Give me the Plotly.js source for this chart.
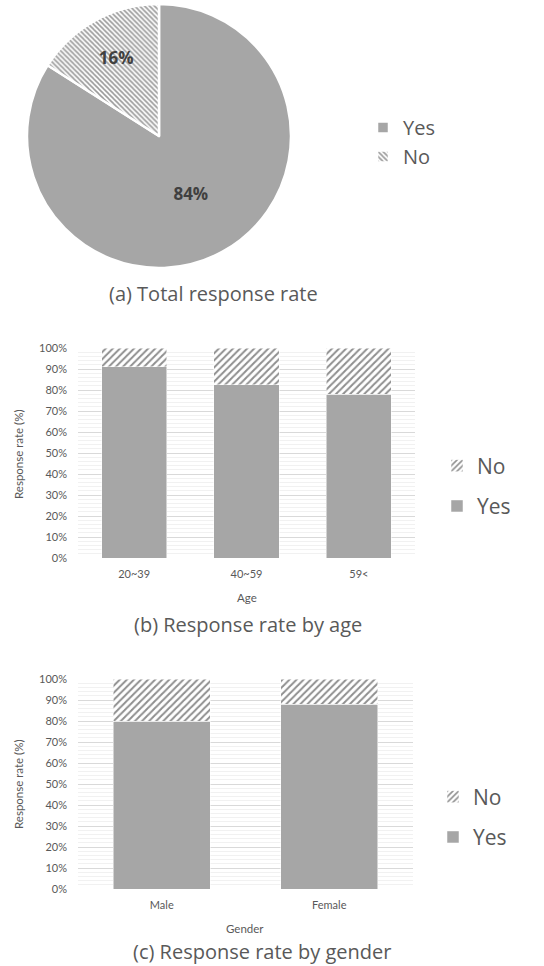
<!DOCTYPE html>
<html>
<head>
<meta charset="utf-8">
<script src="https://cdn.plot.ly/plotly-3.0.1.min.js"></script>
<style>
  html, body { margin: 0; padding: 0; background: #fff; }
  #chart { width: 544px; height: 966px; }
</style>
</head>
<body>
<div id="chart"></div>
<script>
// Survey response data
const pieLabels = ['Yes', 'No'];
const pieValues = [84, 16];

const ageGroups = ['20~39', '40~59', '59<'];
const ageYes = [91, 82.5, 78];
const ageNo = [9, 17.5, 22];

const genders = ['Male', 'Female'];
const genderYes = [80, 88];
const genderNo = [20, 12];

const yTicks = [0, 10, 20, 30, 40, 50, 60, 70, 80, 90, 100];

const W = 544, H = 966;
const px = v => v / W;          // horizontal pixel -> paper
const py = v => 1 - v / H;      // vertical pixel (from top) -> paper

const SMALL_FONT = 'Lato, "Open Sans", sans-serif';
const BIG_FONT = '"Open Sans", "Noto Sans", sans-serif';
const GREY = '#a6a6a6';
const TEXT = '#595959';

const hatch = { shape: '/', fgcolor: '#8f8f8f', bgcolor: '#ffffff', size: 5, solidity: 0.4 };

const traces = [
  {
    type: 'pie',
    labels: pieLabels,
    values: pieValues,
    sort: false,
    direction: 'clockwise',
    rotation: 0,
    domain: { x: [px(27), px(291)], y: [py(268), py(4)] },
    textinfo: 'percent',
    textposition: 'inside',
    insidetextorientation: 'horizontal',
    textfont: { family: BIG_FONT, size: 17, color: '#404040', weight: 'bold' },
    marker: {
      colors: [GREY, '#ffffff'],
      line: { color: '#ffffff', width: 2.5 },
      pattern: { shape: ['', '\\'], fgcolor: '#9a9a9a', bgcolor: '#ffffff', size: 3.5, solidity: 0.45 }
    },
    legend: 'legend',
    hoverinfo: 'label+percent'
  },
  {
    type: 'bar', name: 'Yes', x: ageGroups, y: ageYes,
    xaxis: 'x', yaxis: 'y', legend: 'legend2', legendgroup: 'ageYes', legendrank: 2,
    marker: { color: GREY, line: { color: '#ffffff', width: 0.5 } }
  },
  {
    type: 'bar', name: 'No', x: ageGroups, y: ageNo,
    xaxis: 'x', yaxis: 'y', legend: 'legend2', legendgroup: 'ageNo', legendrank: 1,
    marker: { color: '#ffffff', pattern: hatch, line: { color: '#ffffff', width: 0.5 } }
  },
  {
    type: 'bar', name: 'Yes', x: genders, y: genderYes,
    xaxis: 'x2', yaxis: 'y2', legend: 'legend3', legendgroup: 'genYes', legendrank: 2,
    marker: { color: GREY, line: { color: '#ffffff', width: 0.5 } }
  },
  {
    type: 'bar', name: 'No', x: genders, y: genderNo,
    xaxis: 'x2', yaxis: 'y2', legend: 'legend3', legendgroup: 'genNo', legendrank: 1,
    marker: { color: '#ffffff', pattern: hatch, line: { color: '#ffffff', width: 0.5 } }
  }
];

const yAxisBase = {
  range: [0, 100],
  tickvals: yTicks,
  ticktext: yTicks.map(v => v + '%'),
  showgrid: true,
  gridcolor: '#d9d9d9',
  gridwidth: 1,
  minor: { dtick: 2, showgrid: true, gridcolor: '#f1f1f1', gridwidth: 1 },
  zeroline: false,
  showline: false,
  ticks: '',
  ticklabelstandoff: 10,
  automargin: false,
  tickfont: { family: SMALL_FONT, size: 11, color: TEXT },
  fixedrange: true
};

const xAxisBase = {
  showgrid: false,
  zeroline: false,
  showline: false,
  ticks: '',
  ticklabelstandoff: 8,
  automargin: false,
  tickfont: { family: SMALL_FONT, size: 11, color: TEXT },
  fixedrange: true
};

const legendBase = {
  xanchor: 'left',
  yanchor: 'middle',
  bgcolor: 'rgba(0,0,0,0)',
  font: { family: BIG_FONT, size: 21, color: TEXT }
};

// Free-standing text: axis names and panel captions
const labelFont = { family: SMALL_FONT, size: 11.5, color: TEXT };
const captionFont = { family: BIG_FONT, size: 20, color: TEXT };
const texts = [
  { text: 'Response rate (%)', x: px(18), y: py(455), textangle: -90, font: labelFont },
  { text: 'Age', x: px(247), y: py(597), font: labelFont },
  { text: 'Response rate (%)', x: px(18), y: py(785), textangle: -90, font: labelFont },
  { text: 'Gender', x: px(245), y: py(928), font: labelFont },
  { text: '(a) Total response rate', x: px(213), y: py(293), font: captionFont },
  { text: '(b) Response rate by age', x: px(248), y: py(624), font: captionFont },
  { text: '(c) Response rate by gender', x: px(262), y: py(951), font: captionFont }
];

const layout = {
  width: W,
  height: H,
  margin: { l: 0, r: 0, t: 0, b: 0 },
  paper_bgcolor: '#ffffff',
  plot_bgcolor: '#ffffff',
  font: { family: BIG_FONT, color: TEXT },
  barmode: 'stack',
  bargap: 0.42,
  showlegend: true,

  xaxis: Object.assign({}, xAxisBase, { domain: [px(78), px(415)], anchor: 'y' }),
  yaxis: Object.assign({}, yAxisBase, { domain: [py(558), py(348)], anchor: 'x' }),

  xaxis2: Object.assign({}, xAxisBase, { domain: [px(78), px(413)], anchor: 'y2' }),
  yaxis2: Object.assign({}, yAxisBase, { domain: [py(889), py(679)], anchor: 'x2' }),

  legend: Object.assign({}, legendBase, {
    x: px(363), y: py(142), traceorder: 'normal',
    font: { family: BIG_FONT, size: 20, color: TEXT }
  }),
  legend2: Object.assign({}, legendBase, { x: px(437), y: py(486), traceorder: 'grouped', tracegroupgap: 10 }),
  legend3: Object.assign({}, legendBase, { x: px(433), y: py(817), traceorder: 'grouped', tracegroupgap: 10 }),

  annotations: texts.map(a => Object.assign({
    xref: 'paper', yref: 'paper', showarrow: false,
    xanchor: 'center', yanchor: 'middle'
  }, a))
};

Plotly.newPlot('chart', traces, layout, { displayModeBar: false, staticPlot: true });
</script>
</body>
</html>
